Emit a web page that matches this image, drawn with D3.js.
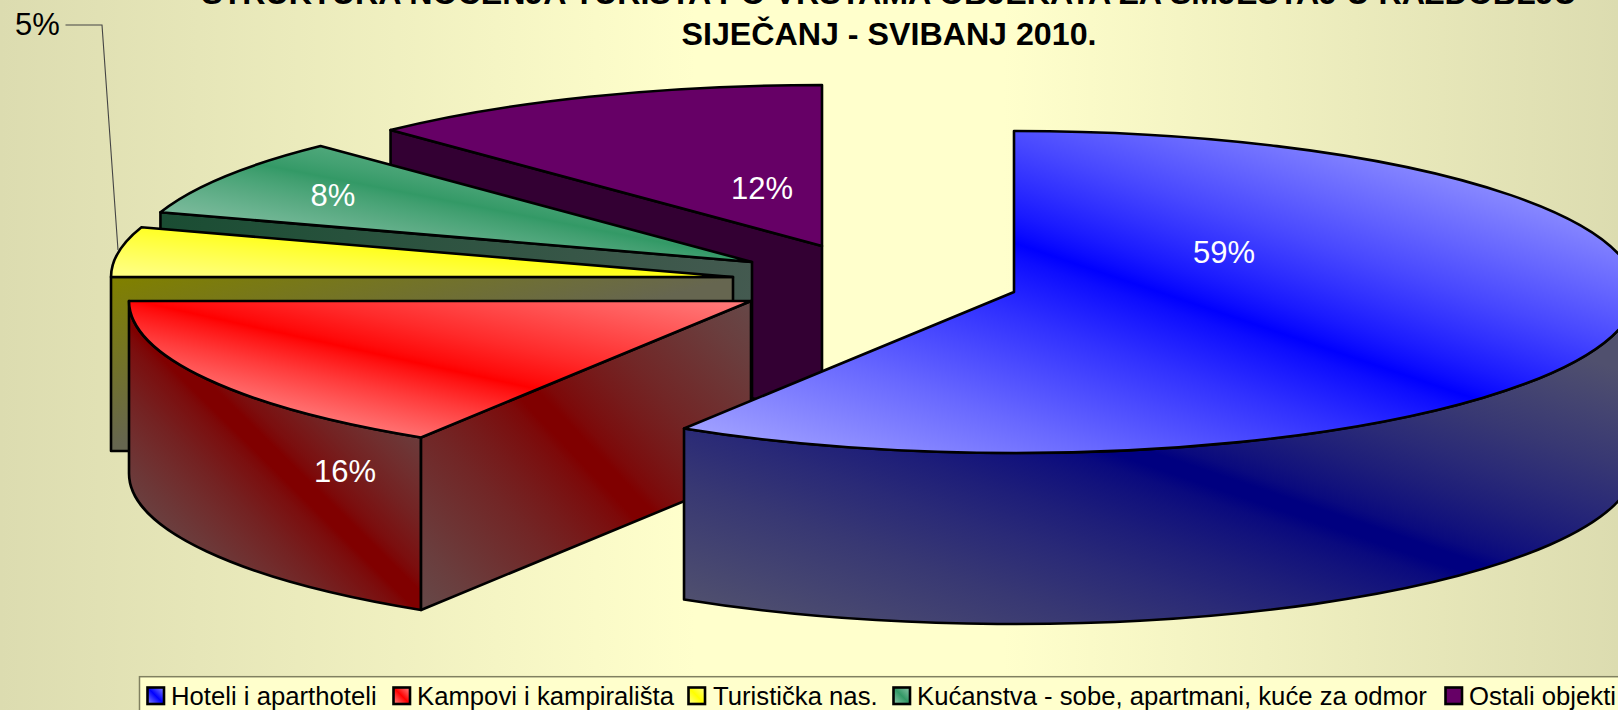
<!DOCTYPE html>
<html><head><meta charset="utf-8">
<script src="https://cdn.jsdelivr.net/npm/d3@7/dist/d3.min.js"></script>
<style>html,body{margin:0;padding:0;overflow:hidden}svg{display:block}text{font-family:"Liberation Sans",Arial,sans-serif}</style>
</head><body>
<script>
const categories = ["Hoteli i aparthoteli","Kampovi i kampirališta","Turistička nas.","Kućanstva - sobe, apartmani, kuće za odmor","Ostali objekti"];
const shares = [58.9, 16.1, 5, 7.8, 12.2];
const titleLines = ["STRUKTURA NOĆENJA TURISTA PO VRSTAMA OBJEKATA ZA SMJEŠTAJ U RAZDOBLJU","SIJEČANJ - SVIBANJ 2010."];
const swatchColors = ["#0000ff","#ff0000","#ffff00","#339966","#660066"];

// layout only
const W=1618,H=710, RX=622, RY=161;
const centres=[[1014,292],[751,301],[733,277],[752,262],[822,246]];
const depths=[171,172.5,174,171,171];
const labelPos=[[1224,263,"#fff"],[345,482,"#fff"],[37.5,35,"#000"],[333,206,"#fff"],[762,199,"#fff"]];
const legendSwatchX=[147.5,393.5,688.5,893.5,1445.5];
const legendTextX=[171,417,713,917,1469];

const svg=d3.select("body").append("svg").attr("width",W).attr("height",H);
const defs=svg.append("defs");
function grad(id,p,n,stops){
  const len=Math.hypot(n[0],n[1]),u=[n[0]/len,n[1]/len];
  const t0=stops[0][0],t1=stops[stops.length-1][0];
  const g=defs.append("linearGradient").attr("id",id).attr("gradientUnits","userSpaceOnUse")
    .attr("x1",p[0]+u[0]*t0).attr("y1",p[1]+u[1]*t0).attr("x2",p[0]+u[0]*t1).attr("y2",p[1]+u[1]*t1);
  stops.forEach(s=>g.append("stop").attr("offset",(s[0]-t0)/(t1-t0)).attr("stop-color",s[1]));
  return `url(#${id})`;
}
function band(neg,pos,mid,endNeg,endPos,half=0,gamma=.85){
  const out=[],fr=[1,.8,.6,.4,.25,.12,.05];
  fr.forEach(f=>out.push([-half-(neg-half)*f,d3.interpolateRgb(mid,endNeg)(Math.pow(f,gamma))]));
  out.push([-half,mid]); if(half>0) out.push([half,mid]);
  fr.slice().reverse().forEach(f=>out.push([half+(pos-half)*f,d3.interpolateRgb(mid,endPos)(Math.pow(f,gamma))]));
  return out;
}
const bg=defs.append("linearGradient").attr("id","bg");
[[0,"#dcdcb0"],[.43,"#ffffcc"],[.62,"#ffffcc"],[1,"#dcdcb0"]].forEach(s=>bg.append("stop").attr("offset",s[0]).attr("stop-color",s[1]));
svg.append("rect").attr("width",W).attr("height",H).attr("fill","url(#bg)");

const pieGen=d3.pie().sort(null)(shares);
const sx=d3.scaleLinear().domain([-1,1]).range([-RX,RX]);
const sy=d3.scaleLinear().domain([-1,1]).range([-RY,RY]);
const pt=(i,a,dy=0)=>[centres[i][0]+sx(Math.sin(a)),centres[i][1]-sy(Math.cos(a))+dy];
function arcTo(i,a0,a1,dy=0){
  const p=pt(i,a1,dy), large=Math.abs(a1-a0)>Math.PI?1:0, sweep=a1>a0?1:0;
  return `A${RX},${RY} 0 ${large} ${sweep} ${p[0]},${p[1]}`;
}
function topPath(i){const s=pieGen[i],c=centres[i],p=pt(i,s.startAngle);
  return `M${c[0]},${c[1]}L${p[0]},${p[1]}${arcTo(i,s.startAngle,s.endAngle)}Z`;}
function outerWall(i,a0,a1){const D=depths[i],p=pt(i,a0),q=pt(i,a1,D);
  return `M${p[0]},${p[1]}${arcTo(i,a0,a1)}L${q[0]},${q[1]}${arcTo(i,a1,a0,D)}Z`;}
function cutWall(i,a){const D=depths[i],c=centres[i],p=pt(i,a);
  return `M${c[0]},${c[1]}L${p[0]},${p[1]}V${p[1]+D}L${c[0]},${c[1]+D}Z`;}

const fills={
  blueTop:grad("bt",[1014,243],[.32,-.947],band(280,240,"#0000ff","#a0a0ff","#9c9cff")),
  blueWall:grad("bw",[1130,452],[.32,-.947],band(285,235,"#000080","#50506e","#50506e",7,.7)),
  redTop:grad("rt",[150,304],[.215,-.977],band(85,145,"#ff0000","#ff8080","#ff8888")),
  redWall:grad("rw",[200,385],[.7,-.71],band(130,130,"#800000","#6a4040","#6a4040",8,.7)),
  redCut:grad("rc",[532,398],[.72,-.69],band(225,225,"#800000","#664848","#664848",9,.7)),
  yelTop:grad("yt",[500,250],[.1,-.995],band(60,40,"#ffff00","#ffff80","#ffff60")),
  yelCut:grad("yc",[115,280],[.26,.96],[[0,"#808000"],[160,"#666650"]]),
  grnTop:grad("gt",[289,170],[.19,-.98],band(75,60,"#339966","#85bfa3","#66b38c")),
  grnCut:grad("gc",[163,220],[590,80],[[0,"#1a4d33"],[595,"#445a50"]]),
};
const sl=svg.append("g").attr("stroke","#000").attr("stroke-width",2.6).attr("stroke-linejoin","round");
const draw=(d,f)=>sl.append("path").attr("d",d).attr("fill",f);
const a=i=>pieGen[i];
draw(cutWall(4,a(4).startAngle),"#330033");
draw(topPath(4),swatchColors[4]);
draw(cutWall(3,a(3).startAngle),fills.grnCut);
draw(topPath(3),fills.grnTop);
draw(cutWall(2,a(2).startAngle),fills.yelCut);
draw(topPath(2),fills.yelTop);
draw(outerWall(1,a(1).startAngle,a(1).endAngle),fills.redWall);
draw(cutWall(1,a(1).startAngle),fills.redCut);
draw(topPath(1),fills.redTop);
draw(outerWall(0,Math.PI/2,a(0).endAngle),fills.blueWall);
draw(topPath(0),fills.blueTop);

svg.append("path").attr("d","M65.5,25H102L118,250").attr("fill","none").attr("stroke","#444").attr("stroke-width",1.1);

svg.append("g").selectAll("text").data(shares).join("text")
  .attr("x",(d,i)=>labelPos[i][0]).attr("y",(d,i)=>labelPos[i][1]).attr("fill",(d,i)=>labelPos[i][2])
  .attr("text-anchor","middle").attr("font-size",31).text(d=>Math.round(d)+"%");

svg.append("g").selectAll("text").data(titleLines).join("text")
  .attr("x",889).attr("y",(d,i)=>4+i*41).attr("text-anchor","middle")
  .attr("font-size",32.2).attr("font-weight","bold").attr("fill","#000").text(d=>d);

svg.append("rect").attr("x",139.5).attr("y",676.7).attr("width",1500).attr("height",60)
  .attr("fill","#ffffcc").attr("stroke","#808060").attr("stroke-width",1.5);
const lg=svg.append("g").selectAll("g").data(categories).join("g");
const swFill=[
 grad("s0",[156,696],[1,-1],[[-13,"#9999ff"],[0,"#0000ff"],[13,"#9999ff"]]),
 grad("s1",[402,696],[1,-1],[[-13,"#ff9999"],[0,"#ff0000"],[13,"#ff9999"]]),
 grad("s2",[697,696],[1,-1],[[-13,"#ffff99"],[0,"#ffff00"],[13,"#ffff99"]]),
 grad("s3",[902,696],[1,-1],[[-13,"#99ccb3"],[0,"#339966"],[13,"#99ccb3"]]),
 swatchColors[4]];
lg.append("rect").attr("x",(d,i)=>legendSwatchX[i]).attr("y",687.5).attr("width",16.5).attr("height",16.5)
  .attr("fill",(d,i)=>swFill[i]).attr("stroke","#000").attr("stroke-width",2.6);
lg.append("text").attr("x",(d,i)=>legendTextX[i]).attr("y",705).attr("font-size",25.7).attr("fill","#000").text(d=>d);
</script>
</body></html>
